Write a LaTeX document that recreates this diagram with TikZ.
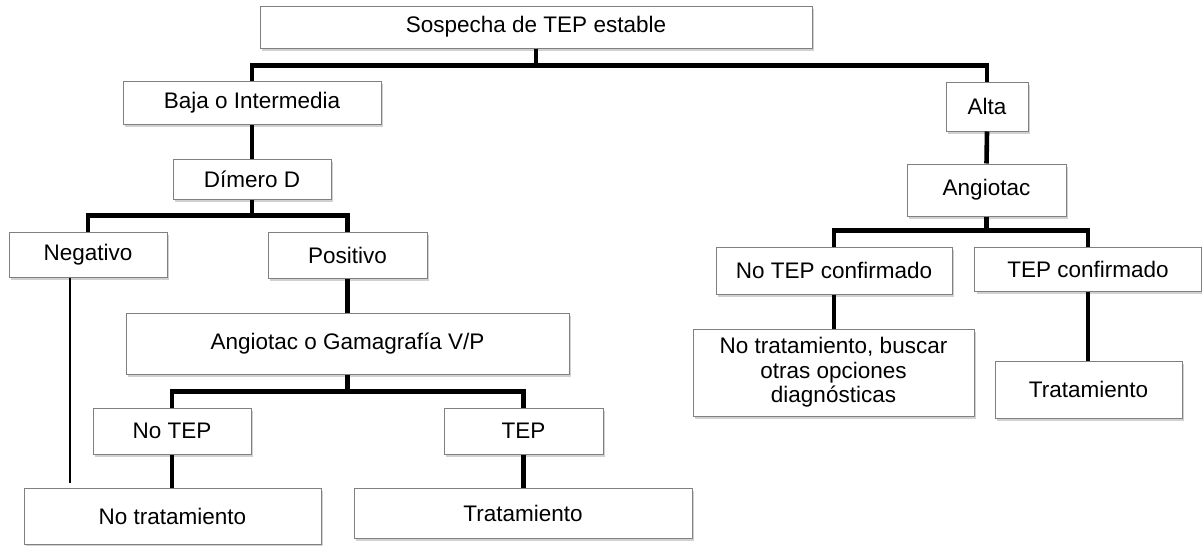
\documentclass[tikz,border=0pt]{standalone}
\usepackage{fontspec}
\setmainfont{Liberation Sans}
\usetikzlibrary{shadows}
\tikzset{
	caja/.style={draw=black!50, line width=1pt, fill=white, align=center, inner sep=0pt,
		drop shadow={shadow xshift=2pt, shadow yshift=-2.5pt, opacity=0.3, fill=black!60}},
	rama/.style={line width=4.6pt},
	fino/.style={line width=1.4pt}
}

\begin{document}
\begin{tikzpicture}[x=1pt, y=-1pt, font=\fontsize{22.5}{24.6}\selectfont]
			%%%%% START %%%%%
			\useasboundingbox (0, 0) rectangle (1202, 546);
			
			\node[caja, minimum width=552pt, minimum height=42pt] (sos) at (536, 27) {Sospecha de TEP estable};
			
			\node[caja, minimum width=258pt, minimum height=43pt] (baja) at (252, 102.5) {Baja o Intermedia};
			\node[caja, minimum width=158pt, minimum height=40pt] (dimero) at (252, 179) {Dímero D};
			\node[caja, minimum width=158pt, minimum height=45pt] (neg) at (88, 254.5) {Negativo};
			\node[caja, minimum width=159pt, minimum height=46pt] (pos) at (347.5, 255) {Positivo};
			\node[caja, minimum width=443pt, minimum height=61pt] (angio) at (347.5, 343.5) {Angiotac o Gamagrafía V/P};
			\node[caja, minimum width=158pt, minimum height=46pt] (notep) at (172, 431) {No TEP};
			\node[caja, minimum width=159pt, minimum height=46pt] (tep) at (523.5, 431) {TEP};
			\node[caja, minimum width=297pt, minimum height=56pt] (notrat) at (172.5, 516) {No tratamiento};
			\node[caja, minimum width=338pt, minimum height=50pt] (trat) at (523, 513) {Tratamiento};
			
			\node[caja, minimum width=82pt, minimum height=49pt] (alta) at (987, 106.5) {Alta};
			\node[caja, minimum width=159pt, minimum height=52pt] (angiotac) at (986.5, 190) {Angiotac};
			\node[caja, minimum width=236pt, minimum height=47pt] (noconf) at (834, 270.5) {No TEP confirmado};
			\node[caja, minimum width=227pt, minimum height=44pt] (conf) at (1088, 269) {TEP confirmado};
			\node[caja, minimum width=281pt, minimum height=87pt] (buscar) at (833.5, 372.5) {No tratamiento, buscar\\otras opciones\\diagnósticas};
			\node[caja, minimum width=187pt, minimum height=57pt] (trat2) at (1088.5, 389.5) {Tratamiento};
			
			\draw[rama] (sos.south) -- ++(0, 17) -| (baja.north);
			\draw[rama] (sos.south) -- ++(0, 17) -| (alta.north);
			
			\draw[rama] (baja.south) -- (dimero.north);
			\draw[rama] (dimero.south) -- ++(0, 16) -| (neg.north);
			\draw[rama] (dimero.south) -- ++(0, 16) -| (pos.north);
			\draw[rama] (pos.south) -- (angio.north);
			\draw[rama] (angio.south) -- ++(0, 17) -| (notep.north);
			\draw[rama] (angio.south) -- ++(0, 17) -| (tep.north);
			\draw[rama] (notep.south) -- (notep.south |- notrat.north);
			\draw[rama] (tep.south) -- (tep.south |- trat.north);
			
			\coordinate (finneg) at (70, 483);
			\draw[fino] (neg.south -| finneg) -- (finneg);
			
			\draw[rama] (alta.south) -- (angiotac.north);
			\draw[rama] (angiotac.south) -- ++(0, 14) -| (noconf.north);
			\draw[rama] (angiotac.south) -- ++(0, 14) -| (conf.north);
			\draw[rama] (noconf.south) -- (noconf.south |- buscar.north);
			\draw[rama] (conf.south) -- (conf.south |- trat2.north);
			
			%%%%% END %%%%%
\end{tikzpicture}
\end{document}
